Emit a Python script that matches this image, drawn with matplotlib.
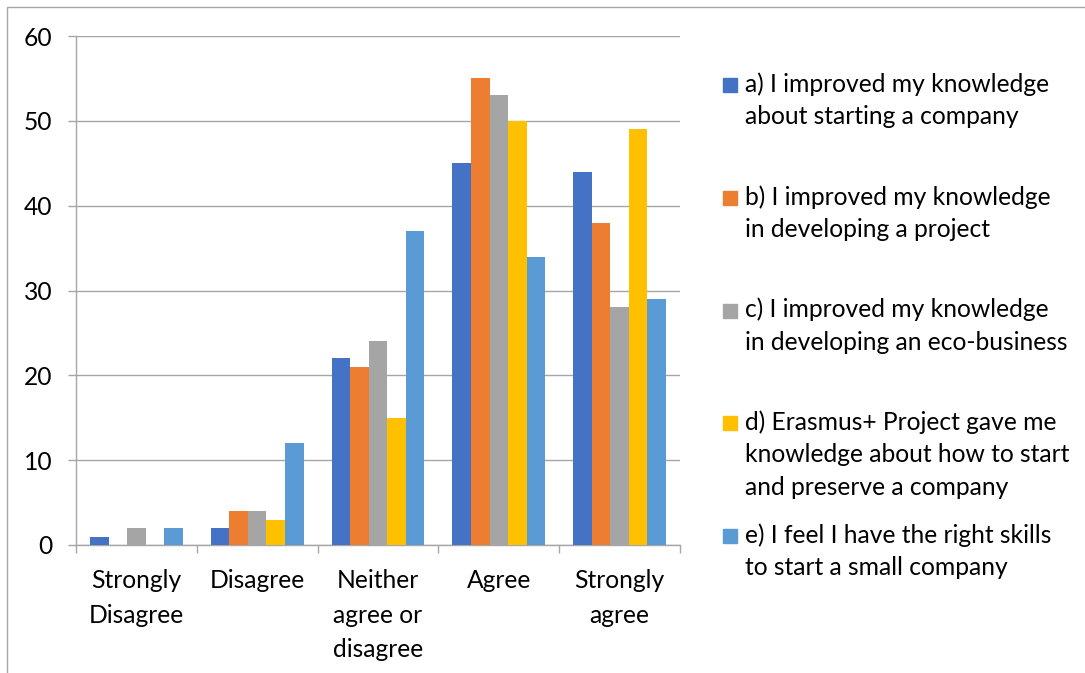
import matplotlib as mpl
from matplotlib import pyplot as plt
import matplotlib.patches as patches
import numpy as np

plt.rcParams['font.family'] = ['Lato', 'DejaVu Sans']

categories = ["Strongly\nDisagree", "Disagree", "Neither\nagree or\ndisagree", "Agree", "Strongly\nagree"]
series_labels = [
    "a) I improved my knowledge\nabout starting a company",
    "b) I improved my knowledge\nin developing a project",
    "c) I improved my knowledge\nin developing an eco-business",
    "d) Erasmus+ Project gave me\nknowledge about how to start\nand preserve a company",
    "e) I feel I have the right skills\nto start a small company",
]
series_a = [1, 2, 22, 45, 44]
series_b = [0, 4, 21, 55, 38]
series_c = [2, 4, 24, 53, 28]
series_d = [0, 3, 15, 50, 49]
series_e = [2, 12, 37, 34, 29]
yticks = [0, 10, 20, 30, 40, 50, 60]

colors = ["#4472C4", "#ED7D31", "#A5A5A5", "#FFC000", "#5B9BD5"]
series = [series_a, series_b, series_c, series_d, series_e]

W, H = 1085, 673
fig = plt.figure(figsize=(W / 100, H / 100), dpi=100)
ax = fig.add_axes([76 / W, 1 - 545 / H, (680 - 76) / W, (545 - 36) / H])

grey = "#A6A6A6"
fsize = 17.7

# Bars, gap width 150% like Excel
x = np.arange(len(categories))
w = 1 / 6.5
for j, vals in enumerate(series):
    ax.bar(x + (j - 2) * w, vals, width=w, color=colors[j], label=series_labels[j], zorder=3)

ax.set_xlim(-0.5, len(categories) - 0.5)
ax.set_ylim(0, 60)
ax.set_yticks(yticks)
ax.yaxis.grid(True, color=grey, linewidth=1, zorder=0)
ax.set_axisbelow(True)

for s in ["top", "right"]:
    ax.spines[s].set_visible(False)
for s in ["left", "bottom"]:
    ax.spines[s].set_color(grey)
    ax.spines[s].set_linewidth(1)

ax.tick_params(axis='y', length=5.8, width=1, color=grey, pad=11, labelsize=fsize)
ax.set_xticks(x)
ax.set_xticklabels(categories)
ax.set_xticks(np.arange(-0.5, len(categories)), minor=True)
ax.tick_params(axis='x', which='major', length=0, pad=17.5, labelsize=fsize)
ax.tick_params(axis='x', which='minor', length=5.8, width=1, color=grey)
for t in ax.get_xticklabels():
    t.set_linespacing(1.6)

# Legend drawn by hand to follow Excel's layout
line_step = 32.5
entry_step = 112.8
for j, lab in enumerate(series_labels):
    y0 = 84 + j * entry_step
    fig.patches.append(patches.Rectangle((723 / W, 1 - (y0 + 8) / H), 14 / W, 14 / H,
                                         transform=fig.transFigure, color=colors[j]))
    for k, line in enumerate(lab.split("\n")):
        fig.text(745 / W, 1 - (y0 + k * line_step) / H, line, fontsize=fsize,
                 va='center', ha='left', color='black')

# Chart border
fig.patches.append(patches.Rectangle((7 / W, -0.1), 1.2, 1 - 7 / H + 0.1, transform=fig.transFigure,
                                     fill=False, edgecolor=grey, linewidth=1))

fig.savefig("out.png", dpi=100)
